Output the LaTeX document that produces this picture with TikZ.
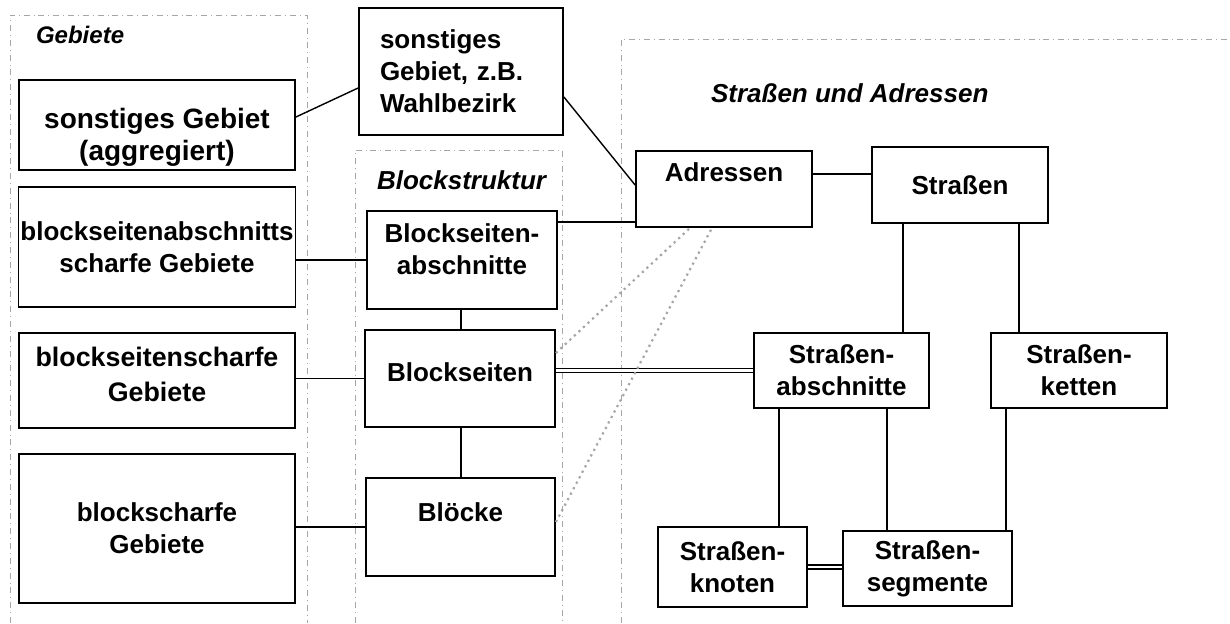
\documentclass[tikz,border=0pt]{standalone}
\usepackage{fontspec}
\setmainfont{Liberation Sans}
\usepackage{tikz}
\tikzset{
  box/.style={draw, line width=0.9pt, font=\fontsize{13}{16}\selectfont\bfseries, align=center, inner xsep=1pt, inner ysep=2pt},
  dims/.style 2 args={minimum width=#1*0.5pt, minimum height=#2*0.5pt},
  frame/.style={gray!70, line width=0.4pt, dash dot},
  link/.style={line width=0.7pt},
  dbl/.style={double, double distance=1.2pt, line width=0.75pt},
  ref/.style={gray!70, dotted, line width=1.1pt},
  title/.style={font=\fontsize{13}{16}\selectfont\bfseries\itshape, anchor=west}
}

\begin{document}
\begin{tikzpicture}[x=0.5pt,y=-0.5pt]
	\useasboundingbox (0,0) rectangle (1230,623);
	\draw[frame] (10,623) -- (10,15) -- (307,15) -- (307,623);       % Gebiete
	\draw[frame] (355,623) -- (355,150) -- (562,150) -- (562,623);   % Blockstruktur
	\draw[frame] (621,623) -- (621,39) -- (1230,39);                 % Strassen
	\node[title, font=\fontsize{12}{14}\selectfont\bfseries\itshape] (tgeb) at (29,35) {Gebiete};
	\node[title] (tblk) at (370,180) {Blockstruktur};
	\node[title] (tstr) at (704,93) {Straßen und Adressen};
	% left column
	\node[box, dims={276}{90}, font=\fontsize{14}{16}\selectfont\bfseries, text height=35pt, text depth=0pt] (aggr) at (157,125) {sonstiges Gebiet\\(aggregiert)};
	\node[box, dims={276}{120}] (bsa) at (157,247) {blockseitenabschnitts\\scharfe Gebiete};
	\node[box, dims={276}{95}, font=\fontsize{13.4}{17.5}\selectfont\bfseries, text depth=6pt] (bss) at (157,380.5) {blockseitenscharfe\\Gebiete};
	\node[box, dims={276}{149}] (bsc) at (157,528.5) {blockscharfe\\Gebiete};
	% middle column
	\node[box, dims={204}{127}, text width=81pt, align=left] (wahl) at (461,71.5) {sonstiges\\Gebiet, z.B.\\Wahlbezirk};
	\node[box, dims={190}{98}, text depth=11pt] (bsab) at (462,260) {Blockseiten-\\abschnitte};
	\node[box, dims={190}{97}, text depth=6pt] (bs) at (460,378.5) {Blockseiten};
	\node[box, dims={189}{98}, text depth=15pt] (bl) at (460.5,527) {Blöcke};
	% right part
	\node[box, dims={176}{76}, text depth=17pt] (adr) at (724,189) {Adressen};
	\node[box, dims={176}{76}] (str) at (960,185) {Straßen};
	\node[box, dims={175}{75}] (sab) at (841.5,370.5) {Straßen-\\abschnitte};
	\node[box, dims={176}{75}] (ske) at (1079,370.5) {Straßen-\\ketten};
	\node[box, dims={149}{80}] (skn) at (732.5,567) {Straßen-\\knoten};
	\node[box, dims={169}{75}] (sse) at (927.5,568.5) {Straßen-\\segmente};
	% connections
	\draw[link] (aggr.east |- 0,117) -- (wahl.west |- 0,88);
	\draw[link] (wahl.east |- 0,97) -- (adr.west |- 0,185);
	\draw[link] (bsab.west) -- (bsab.west -| bsa.east);
	\draw[link] (bsab.east |- 0,222) -- (adr.west |- 0,222);
	\draw[link] (bsab.south -| 461,0) -- (bs.north -| 461,0);
	\draw[link] (bs.west) -- (bs.west -| bss.east);
	\draw[link] (bs.south -| 461,0) -- (bl.north -| 461,0);
	\draw[link] (bl.west) -- (bl.west -| bsc.east);
	\draw[dbl] (sab.west) -- (sab.west -| bs.east);
	\draw[link] (adr.east |- 0,174) -- (str.west |- 0,174);
	\draw[link] (str.south -| 903,0) -- (sab.north -| 903,0);
	\draw[link] (str.south -| 1019,0) -- (ske.north -| 1019,0);
	\draw[link] (sab.south -| 779,0) -- (skn.north -| 779,0);
	\draw[link] (sab.south -| 887,0) -- (sse.north -| 887,0);
	\draw[link] (ske.south -| 1006,0) -- (sse.north -| 1006,0);
	\draw[dbl] (skn.east) -- (skn.east -| sse.west);
	\draw[ref] (bs.east |- 0,353) -- (adr.south -| 690,0);   % dotted
	\draw[ref] (bl.east |- 0,522) -- (adr.south -| 712,0);
\end{tikzpicture}
\end{document}
